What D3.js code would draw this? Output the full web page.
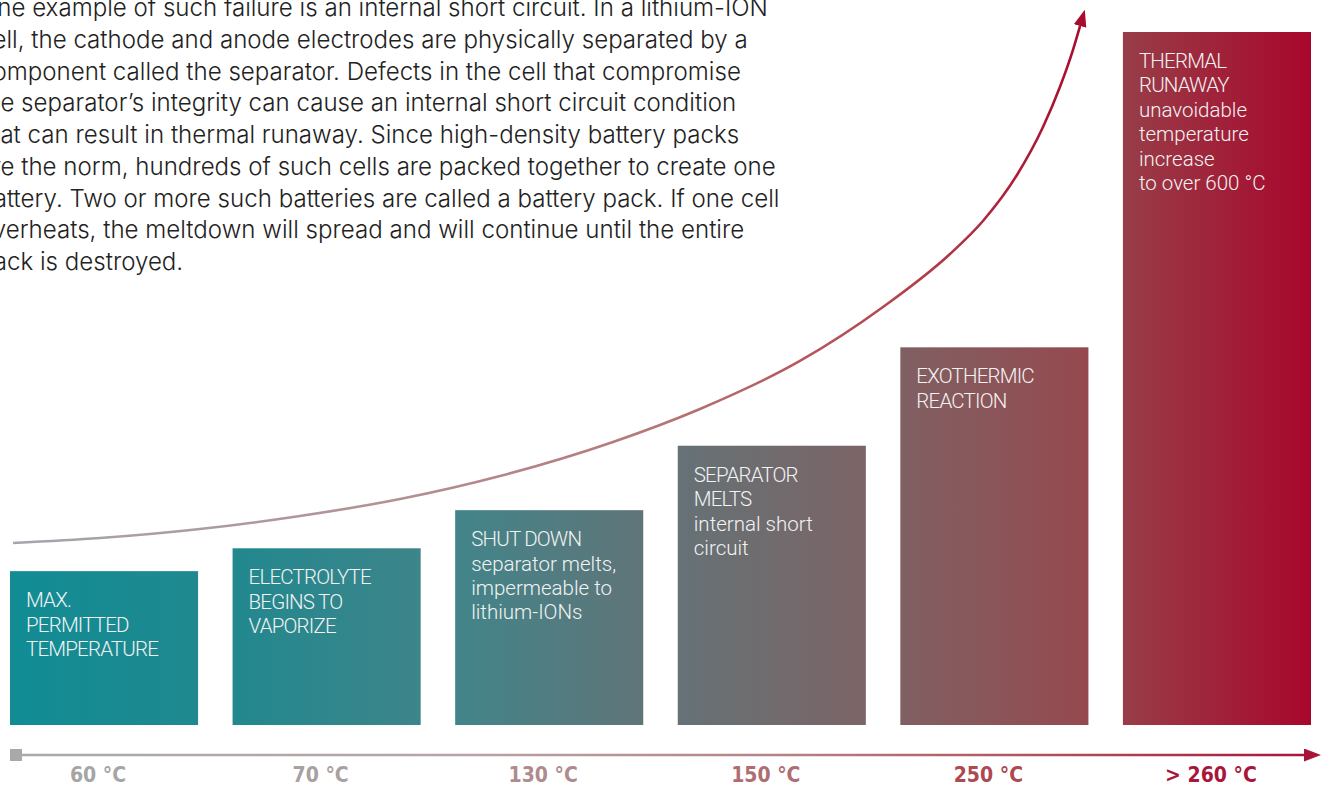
<!DOCTYPE html>
<html>
<head>
<meta charset="utf-8">
<script src="https://cdn.jsdelivr.net/npm/d3@7"></script>
<style>
  html, body { margin: 0; padding: 0; background: #ffffff; overflow: hidden; }
  svg { display: block; }
</style>
</head>
<body>
<svg id="chart" width="1325" height="785"></svg>
<script>
// ---------------- DATA ----------------
const categories = ["max", "electrolyte", "shutdown", "separator", "exothermic", "runaway"];
const tickLabels = ["60 °C", "70 °C", "130 °C", "150 °C", "250 °C", "> 260 °C"];
// relative heat level of each stage (tallest = 100)
const barLevels = [22.2, 25.5, 31.0, 40.3, 54.5, 100];
const barTitles = [
  ["MAX.", "PERMITTED", "TEMPERATURE"],
  ["ELECTROLYTE", "BEGINS TO", "VAPORIZE"],
  ["SHUT DOWN"],
  ["SEPARATOR", "MELTS"],
  ["EXOTHERMIC", "REACTION"],
  ["THERMAL", "RUNAWAY"]
];
const barNotes = [
  [],
  [],
  ["separator melts,", "impermeable to", "lithium-IONs"],
  ["internal short", "circuit"],
  [],
  ["unavoidable", "temperature", "increase", "to over 600 °C"]
];
// temperature curve, x in stage units (0..6), y in heat level
const curveX = [0.014, 0.415, 0.876, 1.337, 1.799, 2.260, 2.781, 3.182, 3.643, 4.026, 4.335, 4.487, 4.644, 4.764, 4.842, 4.902, 4.935];
const curveY = [26.26, 26.98, 28.28, 30.16, 32.61, 35.93, 40.84, 45.60, 52.53, 60.32, 67.97, 72.73, 79.37, 86.29, 92.06, 97.40, 100.87];
const introLines = [
  "One example of such failure is an internal short circuit. In a lithium-ION",
  "cell, the cathode and anode electrodes are physically separated by a",
  "component called the separator. Defects in the cell that compromise",
  "the separator’s integrity can cause an internal short circuit condition",
  "that can result in thermal runaway. Since high-density battery packs",
  "are the norm, hundreds of such cells are packed together to create one",
  "battery. Two or more such batteries are called a battery pack. If one cell",
  "overheats, the meltdown will spread and will continue until the entire",
  "pack is destroyed."
];

// ---------------- LAYOUT ----------------
const svg = d3.select("#chart");
const plotLeft = 10, plotRight = 1311, plotTop = 32, plotBottom = 725, axisY = 755;

const x = d3.scaleBand().domain(categories).range([plotLeft, plotRight]).paddingInner(0.155).paddingOuter(0);
const xs = d3.scaleLinear().domain([0, categories.length]).range([plotLeft, plotRight]);
const y = d3.scaleLinear().domain([0, 100]).range([plotBottom, plotTop]);

const defs = svg.append("defs");

function hGrad(id, x1, x2, stops) {
  const g = defs.append("linearGradient").attr("id", id)
    .attr("gradientUnits", "userSpaceOnUse")
    .attr("x1", x1).attr("x2", x2).attr("y1", 0).attr("y2", 0);
  stops.forEach(s => g.append("stop").attr("offset", s[0]).attr("stop-color", s[1]));
}

hGrad("barGrad", plotLeft, plotRight, [
  [0, "#118c94"], [0.18, "#23888e"], [0.35, "#438489"], [0.5, "#637377"],
  [0.66, "#7c6466"], [0.82, "#944b50"], [1, "#a8072b"]
]);
hGrad("curveGrad", 13, 1083, [
  [0, "#a4a6ae"], [0.35, "#b39195"], [0.6, "#b57777"], [0.82, "#b4464f"], [1, "#a80b2e"]
]);
hGrad("axisGrad", plotLeft, 1320, [
  [0, "#a9a9a9"], [0.35, "#b7a3a5"], [0.6, "#b67f84"], [0.78, "#b1535b"], [1, "#a8123a"]
]);

defs.append("marker").attr("id", "arrowUp")
  .attr("viewBox", "0 0 17 13").attr("refX", 0).attr("refY", 6.5)
  .attr("markerWidth", 17).attr("markerHeight", 13)
  .attr("markerUnits", "userSpaceOnUse").attr("orient", "auto")
  .append("path").attr("d", "M0,0 L17,6.5 L0,13 Z").attr("fill", "#a80c2e");

defs.append("marker").attr("id", "arrowRight")
  .attr("viewBox", "0 0 17 13").attr("refX", 0).attr("refY", 6.5)
  .attr("markerWidth", 17).attr("markerHeight", 13)
  .attr("markerUnits", "userSpaceOnUse").attr("orient", "auto")
  .append("path").attr("d", "M0,0 L17,6.5 L0,13 Z").attr("fill", "#a8133a");

// ---------------- INTRO TEXT ----------------
const intro = svg.append("text")
  .attr("x", -21).attr("y", 16)
  .attr("font-family", "Inter, 'Open Sans', sans-serif")
  .attr("font-size", 24.1).attr("font-weight", 300)
  .attr("fill", "#222222");
intro.selectAll("tspan").data(introLines).join("tspan")
  .attr("x", -21).attr("dy", (d, i) => i === 0 ? 0 : 31.75)
  .text(d => d);

// ---------------- BARS ----------------
const bars = svg.append("g").selectAll("g.bar")
  .data(categories.map((c, i) => ({ c, v: barLevels[i], titles: barTitles[i], notes: barNotes[i] })))
  .join("g").attr("class", "bar");

bars.append("rect")
  .attr("x", d => x(d.c)).attr("y", d => y(d.v))
  .attr("width", x.bandwidth()).attr("height", d => y(0) - y(d.v))
  .attr("fill", "url(#barGrad)");

bars.each(function (d) {
  const g = d3.select(this);
  const lines = d.titles.map(t => ({ t, upper: true })).concat(d.notes.map(t => ({ t, upper: false })));
  g.append("g").selectAll("text").data(lines).join("text")
    .attr("x", x(d.c) + 16)
    .attr("y", (l, i) => y(d.v) + 36 + i * 24.4)
    .attr("font-family", "Roboto, 'Open Sans', sans-serif")
    .attr("font-weight", 300)
    .attr("font-size", 20.5)
    .attr("letter-spacing", l => l.upper ? "-0.8px" : "0px")
    .attr("fill", "#f3f3f3")
    .text(l => l.t);
});

// ---------------- CURVE ----------------
const line = d3.line().x(d => xs(d[0])).y(d => y(d[1])).curve(d3.curveMonotoneX);
svg.append("path")
  .datum(curveX.map((v, i) => [v, curveY[i]]))
  .attr("d", line)
  .attr("fill", "none")
  .attr("stroke", "url(#curveGrad)")
  .attr("stroke-width", 2.6)
  .attr("marker-end", "url(#arrowUp)");

// ---------------- AXIS ----------------
svg.append("line")
  .attr("x1", plotLeft + 6).attr("x2", plotRight - 7)
  .attr("y1", axisY).attr("y2", axisY)
  .attr("stroke", "url(#axisGrad)").attr("stroke-width", 2.6)
  .attr("marker-end", "url(#arrowRight)");
svg.append("rect")
  .attr("x", plotLeft).attr("y", axisY - 6).attr("width", 12).attr("height", 12)
  .attr("fill", "#a9a9a9");

const labelColor = d3.scaleLinear().domain([0, 1, 2, 3, 4, 5])
  .range(["#a5a5a5", "#a9a0a0", "#ae8b8e", "#af6d72", "#ae4951", "#a8173a"]);

const axis = d3.axisBottom(x).tickSize(0).tickFormat((d, i) => tickLabels[i]);
const axisG = svg.append("g").attr("transform", `translate(0,${axisY})`).call(axis);
axisG.select(".domain").remove();
axisG.selectAll(".tick text")
  .attr("y", 27).attr("dy", 0).attr("dx", -6)
  .attr("font-family", "'DejaVu Sans Condensed', 'DejaVu Sans', sans-serif")
  .attr("font-weight", 700).attr("font-size", 21)
  .attr("fill", (d, i) => labelColor(i));
</script>
</body>
</html>
